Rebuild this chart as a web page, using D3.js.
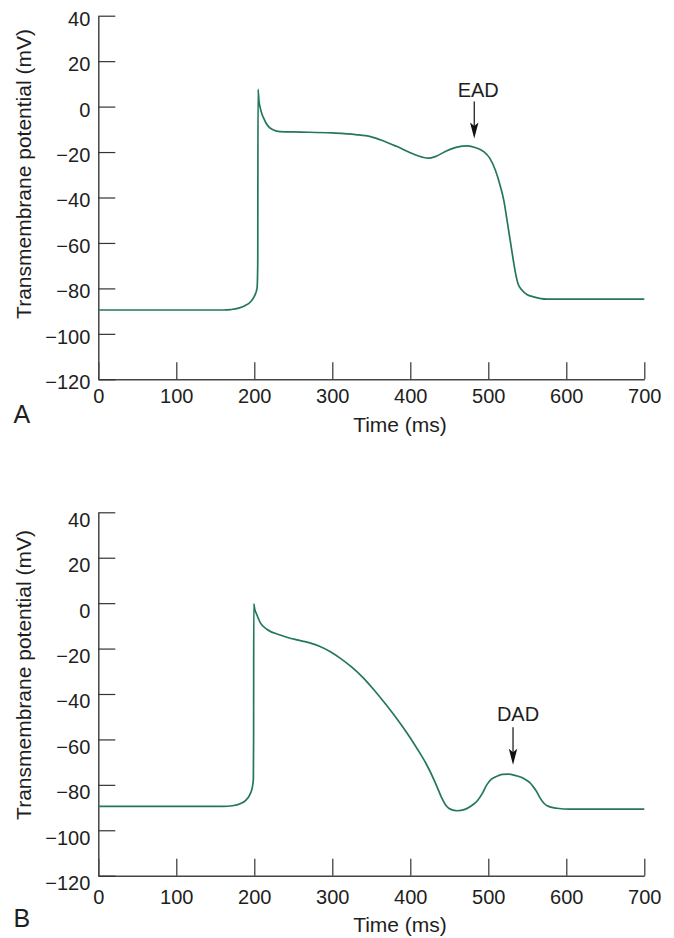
<!DOCTYPE html>
<html>
<head>
<meta charset="utf-8">
<script src="https://cdn.jsdelivr.net/npm/d3@7"></script>
<style>
  body { margin: 0; background: #fff; }
  svg { display: block; font-family: "Liberation Sans", Arial, Helvetica, sans-serif; }
</style>
</head>
<body>
<div id="chart"></div>
<script>
// Panel A: action potential with an early afterdepolarization (EAD)
var timeA = [0, 160, 170, 180, 188, 195, 200, 203.5, 204.4, 204.8, 206, 207.7, 210, 212, 215, 218.3, 224.7, 233,
  260, 300, 330, 349, 365, 383, 400, 415, 423.5, 432, 447, 460, 473, 484, 494, 502, 509, 515, 520, 524, 528,
  532, 535, 538, 543, 550, 558, 575, 700];
var voltageA = [-89.5, -89.5, -89.3, -88.7, -87.6, -86, -83.5, -80, -70, 7.6, 2.5, -0.7, -3.5, -5.1, -7.2, -8.8, -10.3, -11,
  -11.2, -11.6, -12.3, -13.2, -15, -17.6, -20.3, -22.2, -22.7, -22, -19.4, -17.8, -17.3, -18.1, -19.8, -22.8, -27.9, -34.5, -41.5, -50, -58.7,
  -67.5, -73.5, -77.8, -80.7, -82.8, -83.7, -84.7, -84.7];

// Panel B: action potential followed by a delayed afterdepolarization (DAD)
var timeB = [0, 160, 172, 182, 189, 194, 197.5, 198.8, 199.1, 199.3, 200.5, 203.4, 208, 216, 233, 255, 270, 285,
  297, 310, 325, 340, 353, 368, 383, 396, 409, 420, 432, 440, 446, 452, 460, 470, 478, 486, 492, 498, 504, 511, 518,
  526, 534, 543, 549, 554, 558, 562, 566, 571, 578, 588, 605, 700];
var voltageB = [-89.5, -89.5, -89.2, -88.3, -86.8, -84.5, -81, -77.5, -60, -0.3, -2.5, -5.2, -8.8, -11.5, -14, -16.2, -17.4, -19.2,
  -21.3, -24.2, -28.2, -33, -38, -44.3, -51, -57.3, -64.2, -70.5, -79, -85.5, -89.2, -90.8, -91.4, -90.8, -89.3, -87, -84, -80, -77.5, -76.2, -75.4,
  -75.3, -75.8, -76.8, -78, -79.3, -81, -83, -85.5, -88, -89.6, -90.3, -90.7, -90.7];

var xTicks = [0, 100, 200, 300, 400, 500, 600, 700];
var yTicks = [40, 20, 0, -20, -40, -60, -80, -100, -120];

var width = 674, height = 938;
var lineColor = "#24775f";
var axisColor = "#454545";
var textColor = "#1e1e1e";

var svg = d3.select("#chart").append("svg")
  .attr("width", width)
  .attr("height", height);

// one panel = one set of axes with its own curve and annotation
function drawPanel(opts) {
  var x = d3.scaleLinear().domain([0, 700]).range([98.3, 644.3]);
  var y = d3.scaleLinear().domain([-120, 40]).range([opts.bottom, opts.top]);

  var g = svg.append("g");

  var xAxis = d3.axisBottom(x).tickValues(xTicks)
    .tickSizeInner(-17).tickSizeOuter(0).tickPadding(opts.xPad);
  var gx = g.append("g")
    .attr("transform", "translate(0," + opts.bottom + ")")
    .call(xAxis);

  var yAxis = d3.axisLeft(y).tickValues(yTicks)
    .tickFormat(function(d) { return d < 0 ? "\u2212" + Math.abs(d) : d; })
    .tickSizeInner(-17).tickSizeOuter(0).tickPadding(8);
  var gy = g.append("g")
    .attr("transform", "translate(98.3,0)")
    .call(yAxis);
  gy.selectAll(".tick text").attr("y", opts.yShift);

  [gx, gy].forEach(function(a) {
    a.select(".domain").attr("stroke", axisColor).attr("stroke-width", 1.5);
    a.selectAll(".tick line").attr("stroke", "#333").attr("stroke-width", 1.2);
    a.selectAll(".tick text")
      .attr("fill", textColor)
      .style("font-size", "20px");
  });

  // axis titles
  g.append("text")
    .attr("x", 400)
    .attr("y", opts.bottom + opts.titleGap)
    .attr("text-anchor", "middle")
    .attr("fill", textColor)
    .style("font-size", "21px")
    .text("Time (ms)");

  g.append("text")
    .attr("transform", "rotate(-90)")
    .attr("x", -opts.yTitleCenter)
    .attr("y", 31.3)
    .attr("text-anchor", "middle")
    .attr("fill", textColor)
    .style("font-size", "21px")
    .text("Transmembrane potential (mV)");

  // panel letter
  g.append("text")
    .attr("x", 13.5)
    .attr("y", opts.bottom + opts.letterGap)
    .attr("fill", textColor)
    .style("font-size", "25px")
    .text(opts.letter);

  // the trace
  var line = d3.line()
    .x(function(d, i) { return x(opts.time[i]); })
    .y(function(d) { return y(d); })
    .curve(d3.curveMonotoneX);

  g.append("path")
    .datum(opts.voltage)
    .attr("fill", "none")
    .attr("stroke", lineColor)
    .attr("stroke-width", 1.7)
    .attr("stroke-linejoin", "round")
    .attr("d", line);

  // annotation arrow
  var ax = x(opts.mark.t), ay0 = y(opts.mark.from), ay1 = y(opts.mark.to);
  g.append("line")
    .attr("x1", ax).attr("x2", ax)
    .attr("y1", ay0).attr("y2", ay1 - 10)
    .attr("stroke", "#111")
    .attr("stroke-width", 1.2);
  g.append("path")
    .attr("transform", "translate(" + ax + "," + ay1 + ")")
    .attr("d", "M0,0L-4.2,-16L0,-12.5L4.2,-16Z")
    .attr("fill", "#111");
  g.append("text")
    .attr("x", ax + opts.mark.dx)
    .attr("y", ay0 - opts.mark.dy)
    .attr("text-anchor", "middle")
    .attr("fill", textColor)
    .style("font-size", "20px")
    .text(opts.mark.label);
}

drawPanel({
  top: 15.7, bottom: 379.3, xPad: 10, yShift: 3, titleGap: 52.4, letterGap: 43.4,
  yTitleCenter: 174, letter: "A", time: timeA, voltage: voltageA,
  mark: {label: "EAD", t: 482, from: 2.2, to: -14, dx: 4, dy: 5}
});

drawPanel({
  top: 512.3, bottom: 875.7, xPad: 14, yShift: 7.5, titleGap: 56, letterGap: 51,
  yTitleCenter: 675, letter: "B", time: timeB, voltage: voltageB,
  mark: {label: "DAD", t: 531.7, from: -54.6, to: -71.2, dx: 5, dy: 6}
});
</script>
</body>
</html>
